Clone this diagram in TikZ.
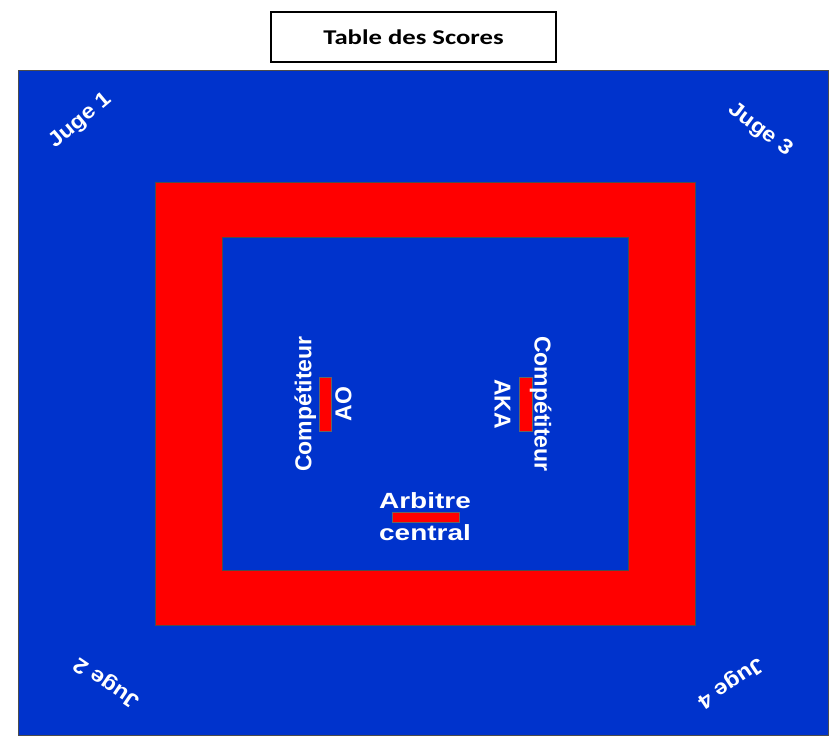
\documentclass[tikz,border=0pt]{standalone}
\usepackage{fontspec}
\newfontfamily\wideFont[FakeStretch=1.27]{Liberation Sans}
\newfontfamily\plainFont{Liberation Sans}
\newfontfamily\diagFont[FakeStretch=1.12]{Liberation Sans}
\newfontfamily\tableFont[FakeStretch=1.27]{Carlito}
\definecolor{matblue}{RGB}{0,51,204}
\definecolor{matred}{RGB}{255,0,0}
\begin{document}
\begin{tikzpicture}[x=1pt, y=1pt,
  area/.style={draw=black!70, line width=0.8pt},
  bar/.style={draw=black!60, fill=matred, line width=0.6pt},
  vlabel/.style={text=white, align=center, font=\plainFont\bfseries\fontsize{23}{40}\selectfont, inner sep=0pt},
  hlabel/.style={text=white, align=center, font=\wideFont\bfseries\fontsize{22}{32}\selectfont, inner sep=0pt},
  judge/.style={text=white, font=\diagFont\bfseries\fontsize{21}{24}\selectfont, inner sep=0pt}]
  \useasboundingbox (0,0) rectangle (831,738);
  \fill[white] (0,0) rectangle (831,738);
  % tapis
  \draw[area, fill=matblue] (18,3) rectangle (828,668);
  \draw[area, fill=matred] (155,113) rectangle (695,556);
  \draw[area, fill=matblue] (222,168) rectangle (628,501);
  % table des scores
  \node[draw=black, line width=1.8pt, minimum width=285pt, minimum height=50pt,
    font=\tableFont\bfseries\fontsize{21}{24}\selectfont] (table) at (413.5,701) {Table des Scores};
  % positions
  \draw[bar] (319,307) rectangle (331,361);
  \draw[bar] (519,307) rectangle (532,361);
  \draw[bar] (392,216) rectangle (459,226);
  \node[vlabel, rotate=90] (ao) at (323,334) {Compétiteur\\AO};
  \node[vlabel, rotate=-90] (aka) at (523,334) {Compétiteur\\AKA};
  \node[hlabel] (arbitre) at (425,221) {Arbitre\\central};
  % juges
  \node[judge, rotate=40] (juge1) at (81,617) {Juge 1};
  \node[judge, rotate=-37] (juge3) at (760,608) {Juge 3};
  \node[judge, rotate=146] (juge2) at (107,56) {Juge 2};
  \node[judge, rotate=-146] (juge4) at (730,56) {Juge 4};
\end{tikzpicture}
\end{document}
